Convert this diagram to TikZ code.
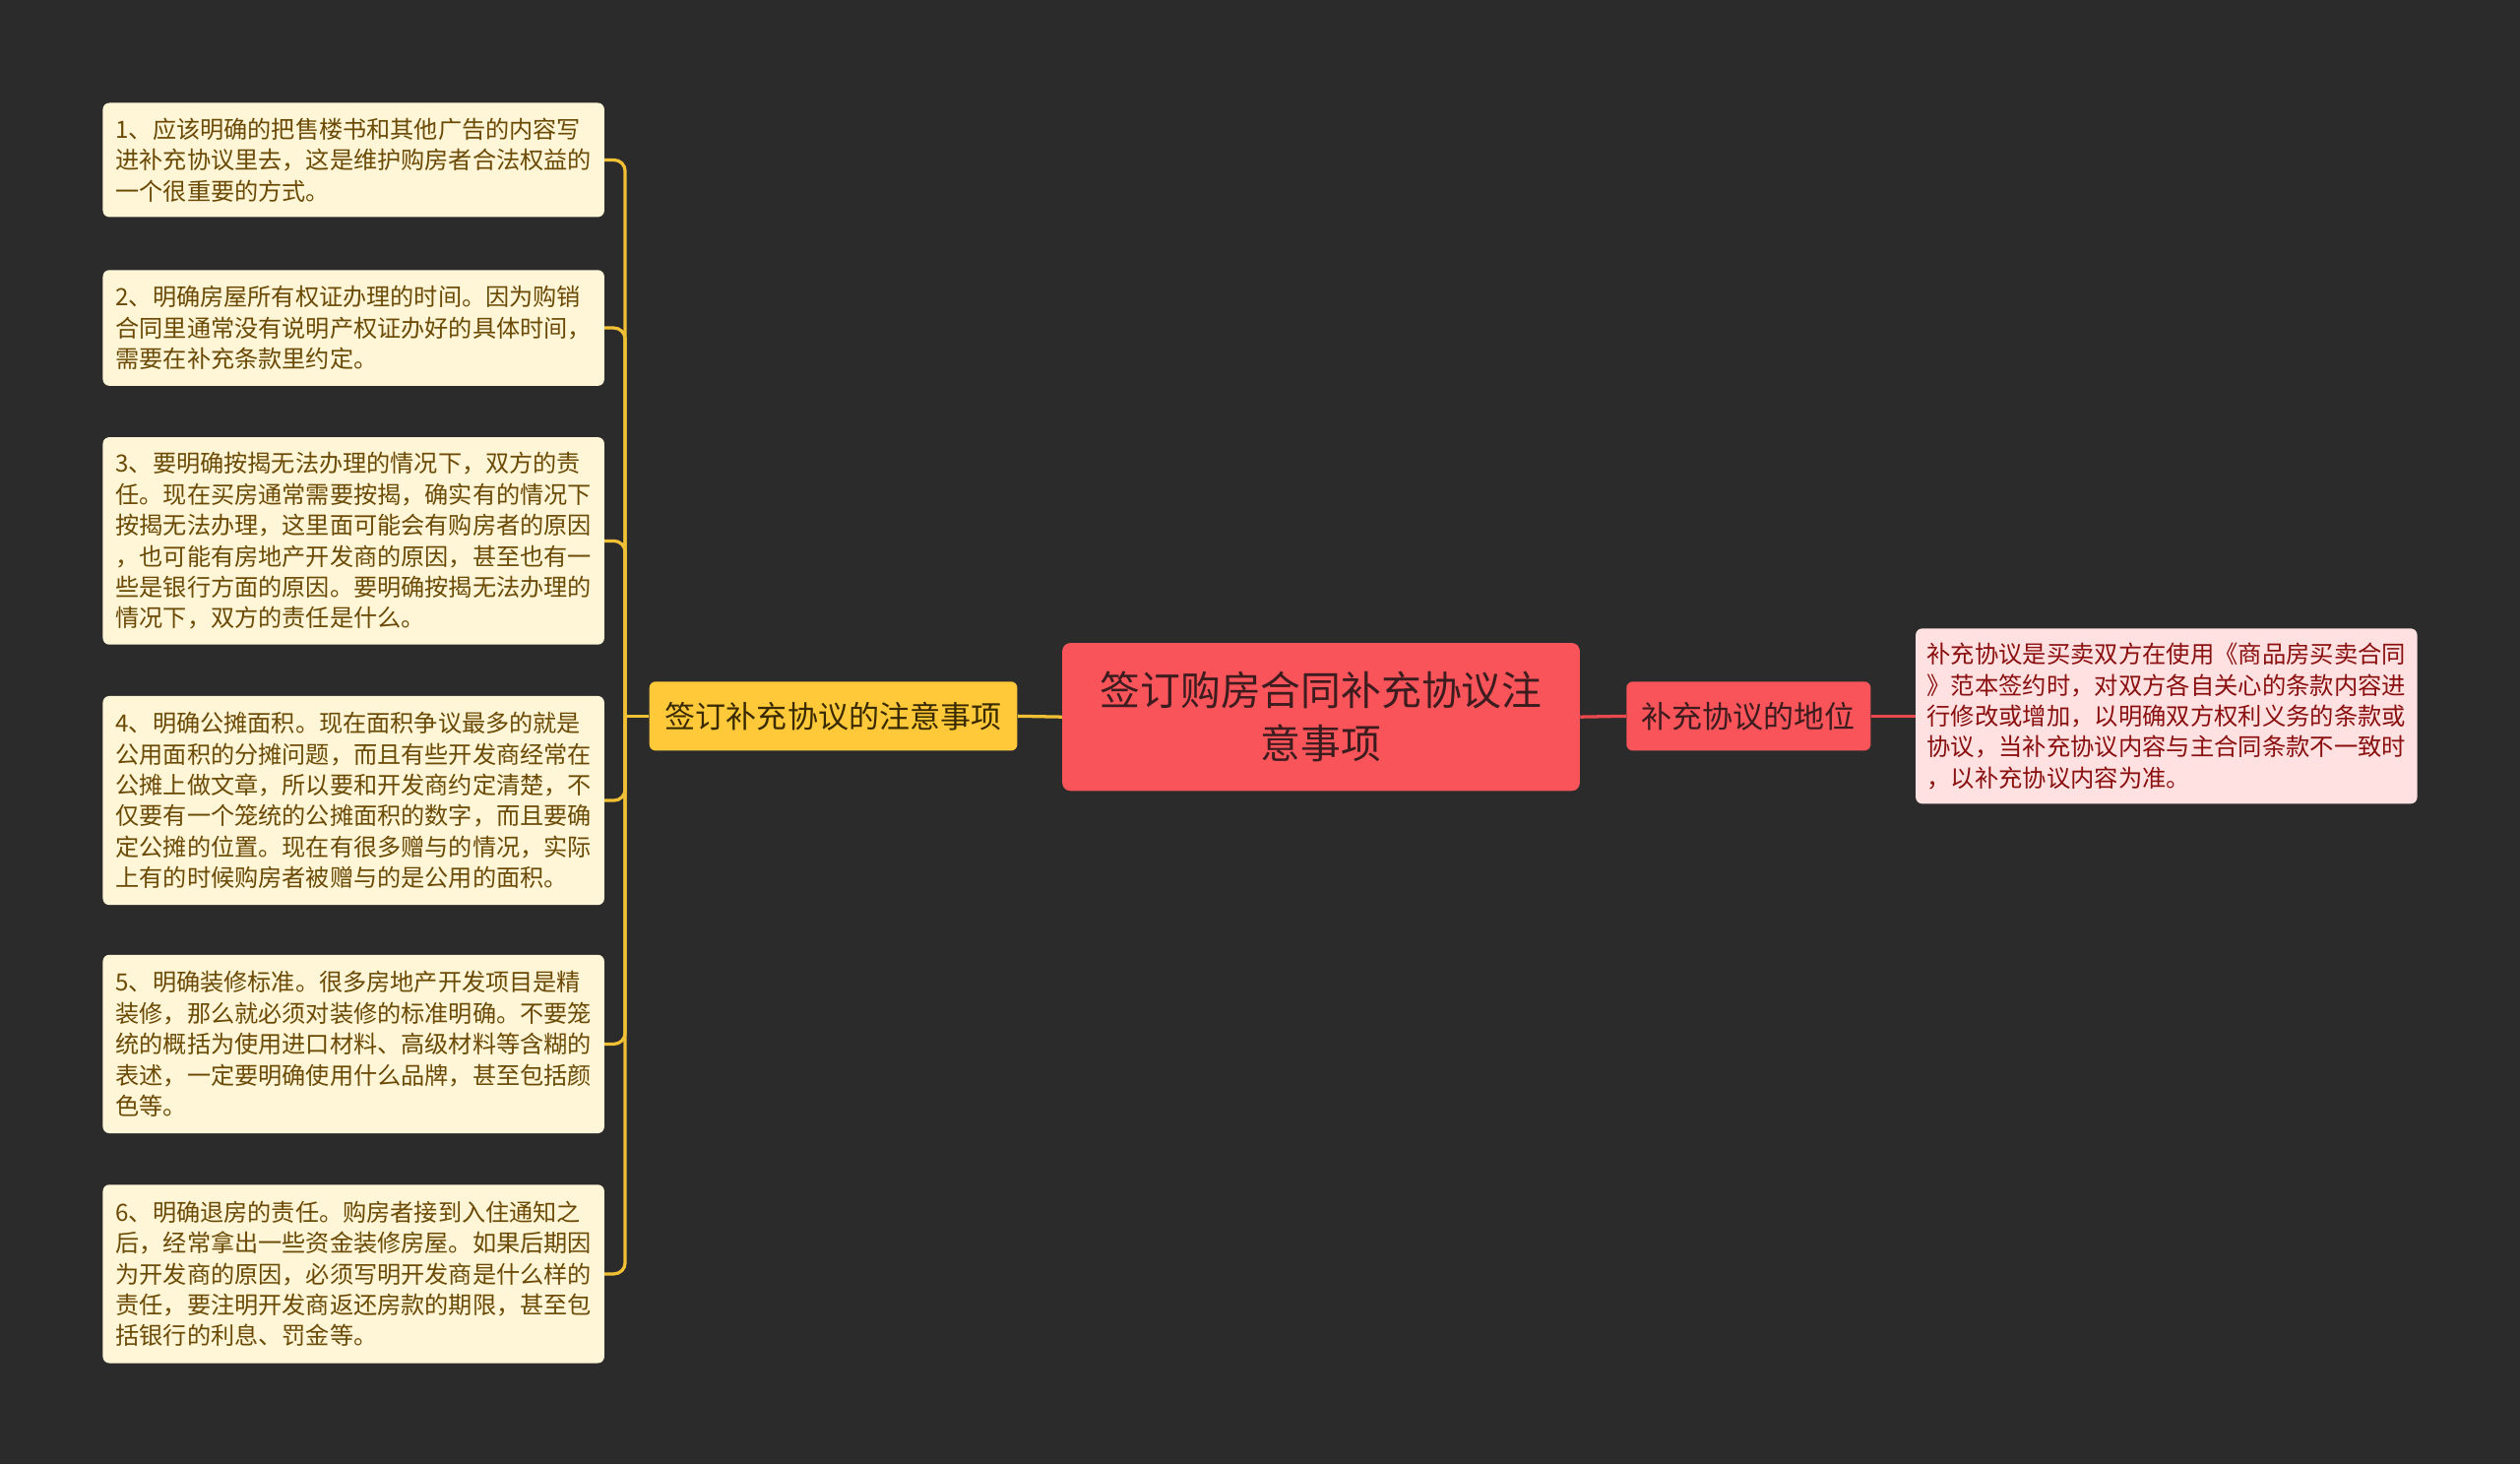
\documentclass[tikz,border=0pt]{standalone}
\usepackage{fontspec}
\setmainfont{Noto Sans CJK SC}
\definecolor{bgc}{HTML}{2B2B2B}
\definecolor{leaffill}{HTML}{FFF6D8}
\definecolor{leaftext}{HTML}{6B4A05}
\definecolor{yelfill}{HTML}{FFC93A}
\definecolor{yeltext}{HTML}{3A2A00}
\definecolor{yelline}{HTML}{F2C035}
\definecolor{rootfill}{HTML}{F9545A}
\definecolor{roottext}{HTML}{3C1C1E}
\definecolor{redline}{HTML}{E8484E}
\definecolor{pinkfill}{HTML}{FFE1E2}
\definecolor{pinktext}{HTML}{8A1010}
\tikzset{
  leafbox/.style={fill=leaffill, text=leaftext, rounded corners=4pt, inner xsep=8pt, inner ysep=0pt,
    minimum width=312pt, text width=296pt, align=left, font=\fontsize{14.8}{19.2}\selectfont},
  yelbox/.style={fill=yelfill, text=yeltext, rounded corners=4pt, inner sep=0pt,
    minimum width=229pt, minimum height=43pt, font=\fontsize{19}{24}\selectfont},
  rootbox/.style={fill=rootfill, text=roottext, rounded corners=5pt, inner sep=0pt,
    minimum width=322pt, minimum height=92pt, align=center, font=\fontsize{25}{33}\selectfont},
  redbox/.style={fill=rootfill, text=roottext, rounded corners=4pt, inner sep=0pt,
    minimum width=152pt, minimum height=43pt, font=\fontsize{19}{24}\selectfont},
  pinkbox/.style={fill=pinkfill, text=pinktext, rounded corners=4pt, inner xsep=7pt, inner ysep=0pt,
    minimum width=312pt, minimum height=109pt, text width=298pt, align=left, font=\fontsize{14.9}{19.2}\selectfont},
  yconn/.style={draw=yelline, line width=2pt, rounded corners=7pt},
  rconn/.style={draw=redline, line width=2pt},
}
\begin{document}
\begin{tikzpicture}[x=1pt,y=-1pt]
\useasboundingbox[fill=bgc] (0,0) rectangle (1568,911);

\node[rootbox] (root) at (822,446) {签订购房合同补充协议注\\意事项};
\node[yelbox] (yb) at (518.5,445.5) {签订补充协议的注意事项};
\node[redbox] (rb) at (1088,445.5) {补充协议的地位};
\node[pinkbox] (pk) at (1348,445.5) {补充协议是买卖双方在使用《商品房买卖合同\\》范本签约时，对双方各自关心的条款内容进\\行修改或增加，以明确双方权利义务的条款或\\协议，当补充协议内容与主合同条款不一致时\\，以补充协议内容为准。};

\node[leafbox, minimum height=71pt] (l1) at (220,99.5) {1、应该明确的把售楼书和其他广告的内容写\\进补充协议里去，这是维护购房者合法权益的\\一个很重要的方式。};
\node[leafbox, minimum height=72pt] (l2) at (220,204) {2、明确房屋所有权证办理的时间。因为购销\\合同里通常没有说明产权证办好的具体时间，\\需要在补充条款里约定。};
\node[leafbox, minimum height=129pt] (l3) at (220,336.5) {3、要明确按揭无法办理的情况下，双方的责\\任。现在买房通常需要按揭，确实有的情况下\\按揭无法办理，这里面可能会有购房者的原因\\，也可能有房地产开发商的原因，甚至也有一\\些是银行方面的原因。要明确按揭无法办理的\\情况下，双方的责任是什么。};
\node[leafbox, minimum height=130pt] (l4) at (220,498) {4、明确公摊面积。现在面积争议最多的就是\\公用面积的分摊问题，而且有些开发商经常在\\公摊上做文章，所以要和开发商约定清楚，不\\仅要有一个笼统的公摊面积的数字，而且要确\\定公摊的位置。现在有很多赠与的情况，实际\\上有的时候购房者被赠与的是公用的面积。};
\node[leafbox, minimum height=111pt] (l5) at (220,649.5) {5、明确装修标准。很多房地产开发项目是精\\装修，那么就必须对装修的标准明确。不要笼\\统的概括为使用进口材料、高级材料等含糊的\\表述，一定要明确使用什么品牌，甚至包括颜\\色等。};
\node[leafbox, minimum height=111pt] (l6) at (220,792.5) {6、明确退房的责任。购房者接到入住通知之\\后，经常拿出一些资金装修房屋。如果后期因\\为开发商的原因，必须写明开发商是什么样的\\责任，要注明开发商返还房款的期限，甚至包\\括银行的利息、罚金等。};

\coordinate (yj) at (389,445.5);
\draw[yconn] (root.west) -- (yb.east);
\draw[yconn] (yb.west) -- (yj);
\foreach \n in {l1,l2,l3,l4,l5,l6}{
  \draw[yconn] (yj) |- (\n.east);
}
\draw[rconn] (root.east) -- (rb.west);
\draw[rconn] (rb.east) -- (pk.west);
\end{tikzpicture}
\end{document}
